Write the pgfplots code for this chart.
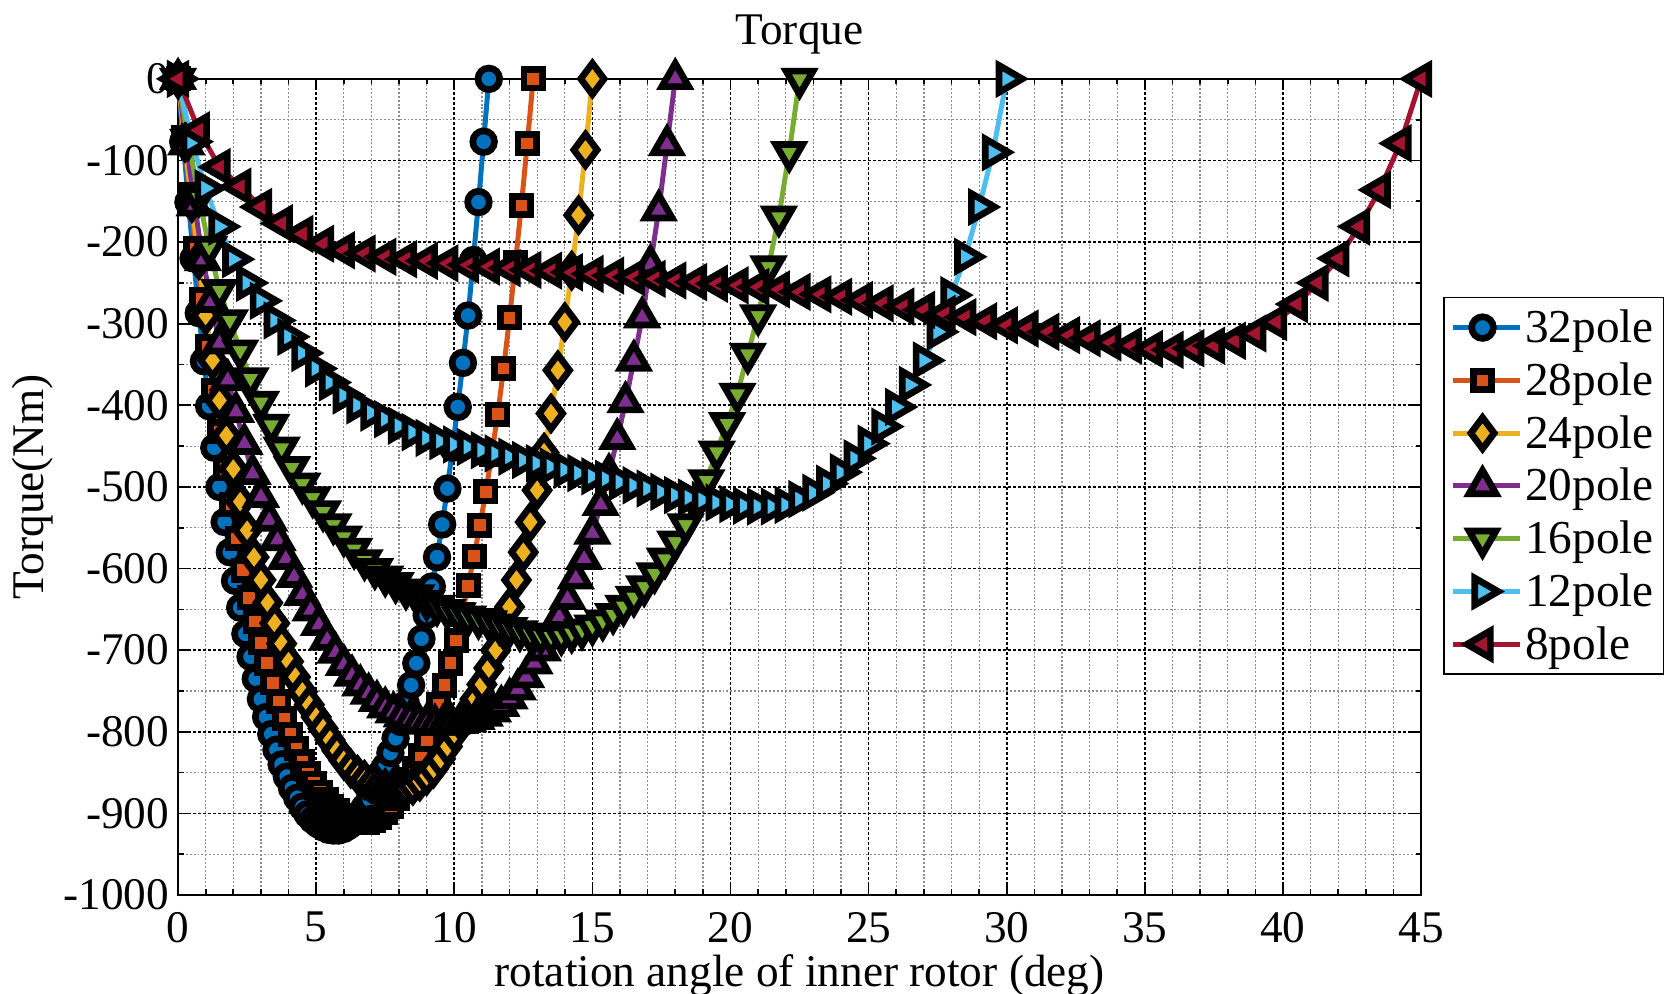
\documentclass[border=0pt]{standalone}
\usepackage{fontspec}
\setmainfont{Liberation Serif}
\usepackage{pgfplots}
\pgfplotsset{compat=1.18}
\definecolor{c32}{RGB}{0,114,189}
\definecolor{c28}{RGB}{217,83,25}
\definecolor{c24}{RGB}{237,177,32}
\definecolor{c20}{RGB}{126,47,142}
\definecolor{c16}{RGB}{119,172,48}
\definecolor{c12}{RGB}{77,190,238}
\definecolor{c8}{RGB}{162,20,47}

\pgfplotsset{
  pole/.style n args={3}{#1, line width=1.8pt, mark=#2,
    mark options={fill=#1, draw=black, line width=2.4pt, line join=miter, solid, rotate=#3}},
}

\begin{document}
\begin{tikzpicture}
\useasboundingbox (0,0) rectangle (599.4pt,357.8pt);
\begin{axis}[
  at={(64.1pt,35.6pt)}, anchor=south west,
  scale only axis, width=447.5pt, height=293.8pt,
  xmin=0, xmax=45, ymin=-1000, ymax=0,
  xtick={0,5,...,45}, xticklabels={0,5,10,15,20,25,30,35,40,45},
  ytick={-1000,-900,...,0},
  yticklabels={-1000,-900,-800,-700,-600,-500,-400,-300,-200,-100,0},
  minor x tick num=4, minor y tick num=1,
  grid=both,
  major grid style={black, line width=0.6pt, dash pattern=on 1.2pt off 0.6pt},
  minor grid style={gray!90, line width=0.45pt, dash pattern=on 0.7pt off 0.7pt},
  axis line style={black, line width=0.8pt},
  tick align=inside, major tick length=4pt, minor tick length=2pt,
  tick style={black, line width=0.6pt},
  font=\fontsize{16.3}{19}\selectfont,
  xticklabel style={inner sep=0pt, yshift=-6pt},
  yticklabel style={inner sep=0pt, xshift=-3pt},
  every axis title shift=0pt,
  title={Torque},
  title style={at={(axis description cs:0.5,1)}, anchor=base, yshift=12.2pt, inner sep=0pt},
  xlabel={rotation angle of inner rotor (deg)},
  xlabel style={at={(axis description cs:0.5,0)}, anchor=base, yshift=-33pt, inner sep=0pt},
  ylabel={Torque(Nm)},
  ylabel style={at={(axis description cs:-0.108,0.5)}, anchor=base, inner sep=0pt},
  clip=false,
  legend style={at={(1.0177,0.733)}, anchor=north west, draw=black, line width=0.6pt,
    fill=white, inner xsep=2.5pt, inner ysep=2pt, row sep=1.4pt,
    font=\fontsize{17}{19}\selectfont,
    nodes={inner sep=1pt, text height=13.2pt, text depth=2.4pt}},
  legend cell align=left,
  legend image code/.code={\draw[mark repeat=2, mark phase=2, #1]
    plot coordinates {(0pt,0pt) (10.5pt,0pt) (21pt,0pt)}; \path (21pt,0pt) -- (24pt,0pt);},
]
% 32 pole
\addplot[pole={c32}{*}{0}, mark size=3.9pt] coordinates {
(0,0)(0.1875,-77)(0.375,-151)(0.5625,-220)(0.75,-287)(0.9375,-346)(1.125,-401)(1.3125,-452)(1.5,-500)(1.6875,-543)(1.875,-580)(2.0625,-615)(2.25,-648)(2.4375,-680)(2.625,-708)(2.8125,-735)(3,-760)(3.1875,-782)(3.375,-803)(3.5625,-822)(3.75,-840)(3.9375,-855)(4.125,-869)(4.3125,-881)(4.5,-892)(4.6875,-901)(4.875,-908)(5.0625,-913)(5.25,-917)(5.4375,-920)(5.625,-921)(5.8125,-921)(6,-919)(6.1875,-915)(6.375,-909)(6.5625,-902)(6.75,-893)(6.9375,-883)(7.125,-871)(7.3125,-858)(7.5,-843)(7.6875,-826)(7.875,-808)(8.0625,-788)(8.25,-766)(8.4375,-743)(8.625,-716)(8.8125,-686)(9,-657)(9.1875,-622)(9.375,-586)(9.5625,-546)(9.75,-502)(9.9375,-452)(10.125,-402)(10.3125,-348)(10.5,-290)(10.6875,-222)(10.875,-151)(11.0625,-77)(11.25,0)
};
\addlegendentry{32pole}
% 28 pole
\addplot[pole={c28}{square*}{0}, mark size=3.3pt] coordinates {
(0,0)(0.214,-72)(0.429,-142)(0.643,-208)(0.857,-270)(1.071,-328)(1.286,-382)(1.5,-432)(1.714,-478)(1.929,-521)(2.143,-563)(2.357,-602)(2.571,-636)(2.786,-665)(3,-691)(3.214,-716)(3.429,-740)(3.643,-763)(3.857,-784)(4.071,-803)(4.286,-821)(4.5,-837)(4.714,-851)(4.929,-863)(5.143,-874)(5.357,-883)(5.571,-891)(5.786,-897)(6,-902)(6.214,-906)(6.429,-909)(6.643,-911)(6.857,-911)(7.071,-909)(7.286,-905)(7.5,-899)(7.714,-891)(7.929,-882)(8.143,-871)(8.357,-859)(8.571,-845)(8.786,-829)(9,-810)(9.214,-790)(9.429,-767)(9.643,-743)(9.857,-716)(10.071,-688)(10.286,-656)(10.5,-621)(10.714,-585)(10.929,-547)(11.143,-506)(11.357,-460)(11.571,-411)(11.786,-355)(12,-293)(12.214,-225)(12.429,-155)(12.643,-79)(12.857,0)
};
\addlegendentry{28pole}
% 24 pole
\addplot[pole={c24}{diamond*}{0}, mark size=5.6pt] coordinates {
(0,0)(0.25,-78)(0.5,-152)(0.75,-222)(1,-290)(1.25,-345)(1.5,-394)(1.75,-437)(2,-478)(2.25,-518)(2.5,-553)(2.75,-586)(3,-614)(3.25,-642)(3.5,-667)(3.75,-692)(4,-714)(4.25,-733)(4.5,-751)(4.75,-767)(5,-782)(5.25,-796)(5.5,-810)(5.75,-823)(6,-835)(6.25,-845)(6.5,-853)(6.75,-859)(7,-864)(7.25,-867)(7.5,-869)(7.75,-870)(8,-870)(8.25,-869)(8.5,-866)(8.75,-861)(9,-854)(9.25,-845)(9.5,-833)(9.75,-818)(10,-802)(10.25,-789)(10.5,-776)(10.75,-760)(11,-742)(11.25,-722)(11.5,-700)(11.75,-674)(12,-647)(12.25,-614)(12.5,-580)(12.75,-543)(13,-504)(13.25,-458)(13.5,-410)(13.75,-357)(14,-298)(14.25,-235)(14.5,-167)(14.75,-87)(15,0)
};
\addlegendentry{24pole}
% 20 pole
\addplot[pole={c20}{triangle*}{0}, mark size=5.6pt] coordinates {
(0,0)(0.3,-80)(0.6,-155)(0.9,-222)(1.2,-273)(1.5,-324)(1.8,-369)(2.1,-408)(2.4,-447)(2.7,-484)(3,-512)(3.3,-541)(3.6,-565)(3.9,-588)(4.2,-610)(4.5,-632)(4.8,-651)(5.1,-669)(5.4,-687)(5.7,-703)(6,-718)(6.3,-731)(6.6,-743)(6.9,-753)(7.2,-762)(7.5,-770)(7.8,-776)(8.1,-781)(8.4,-785)(8.7,-788)(9,-790)(9.3,-791)(9.6,-791)(9.9,-790)(10.2,-789)(10.5,-787)(10.8,-784)(11.1,-780)(11.4,-775)(11.7,-768)(12,-759)(12.3,-748)(12.6,-733)(12.9,-716)(13.2,-700)(13.5,-680)(13.8,-659)(14.1,-637)(14.4,-612)(14.7,-588)(15,-557)(15.3,-522)(15.6,-484)(15.9,-441)(16.2,-396)(16.5,-345)(16.8,-292)(17.1,-228)(17.4,-161)(17.7,-81)(18,0)
};
\addlegendentry{20pole}
% 16 pole
\addplot[pole={c16}{triangle*}{180}, mark size=5.6pt] coordinates {
(0,0)(0.375,-75)(0.75,-145)(1.125,-206)(1.5,-259)(1.875,-296)(2.25,-333)(2.625,-367)(3,-396)(3.375,-424)(3.75,-452)(4.125,-476)(4.5,-496)(4.875,-513)(5.25,-530)(5.625,-546)(6,-561)(6.375,-576)(6.75,-590)(7.125,-601)(7.5,-610)(7.875,-618)(8.25,-626)(8.625,-633)(9,-640)(9.375,-646)(9.75,-651)(10.125,-655)(10.5,-659)(10.875,-662)(11.25,-665)(11.625,-669)(12,-673)(12.375,-677)(12.75,-680)(13.125,-682)(13.5,-683)(13.875,-682)(14.25,-679)(14.625,-675)(15,-670)(15.375,-664)(15.75,-656)(16.125,-646)(16.5,-635)(16.875,-622)(17.25,-606)(17.625,-588)(18,-567)(18.375,-546)(18.75,-521)(19.125,-492)(19.5,-457)(19.875,-422)(20.25,-386)(20.625,-337)(21,-290)(21.375,-230)(21.75,-169)(22.125,-90)(22.5,0)
};
\addlegendentry{16pole}
% 12 pole
\addplot[pole={c12}{triangle*}{-90}, mark size=5.6pt] coordinates {
(0,0)(0.5,-77)(1,-134)(1.5,-181)(2,-221)(2.5,-250)(3,-272)(3.5,-296)(4,-316)(4.5,-336)(5,-355)(5.5,-372)(6,-388)(6.5,-400)(7,-409)(7.5,-417)(8,-425)(8.5,-433)(9,-440)(9.5,-444)(10,-448)(10.5,-451)(11,-455)(11.5,-459)(12,-463)(12.5,-467)(13,-471)(13.5,-475)(14,-479)(14.5,-483)(15,-487)(15.5,-490)(16,-494)(16.5,-498)(17,-502)(17.5,-506)(18,-510)(18.5,-513)(19,-516)(19.5,-519)(20,-521)(20.5,-523)(21,-524)(21.5,-524)(22,-522)(22.5,-515)(23,-507)(23.5,-496)(24,-482)(24.5,-465)(25,-447)(25.5,-426)(26,-402)(26.5,-375)(27,-345)(27.5,-310)(28,-265)(28.5,-218)(29,-157)(29.5,-90)(30,0)
};
\addlegendentry{12pole}
% 8 pole
\addplot[pole={c8}{triangle*}{90}, mark size=5.6pt] coordinates {
(0,0)(0.75,-63)(1.5,-108)(2.25,-132)(3,-157)(3.75,-177)(4.5,-190)(5.25,-202)(6,-210)(6.75,-214)(7.5,-218)(8.25,-221)(9,-223)(9.75,-226)(10.5,-228)(11.25,-230)(12,-232)(12.75,-234)(13.5,-235)(14.25,-237)(15,-239)(15.75,-241)(16.5,-243)(17.25,-245)(18,-247)(18.75,-249)(19.5,-251)(20.25,-253)(21,-255)(21.75,-258)(22.5,-261)(23.25,-264)(24,-267)(24.75,-271)(25.5,-275)(26.25,-279)(27,-283)(27.75,-288)(28.5,-292)(29.25,-297)(30,-302)(30.75,-306)(31.5,-310)(32.25,-314)(33,-318)(33.75,-323)(34.5,-327)(35.25,-331)(36,-332)(36.75,-330)(37.5,-327)(38.25,-321)(39,-312)(39.75,-298)(40.5,-276)(41.25,-250)(42,-220)(42.75,-181)(43.5,-136)(44.25,-79)(45,0)
};
\addlegendentry{8pole}
\end{axis}
\end{tikzpicture}
\end{document}
